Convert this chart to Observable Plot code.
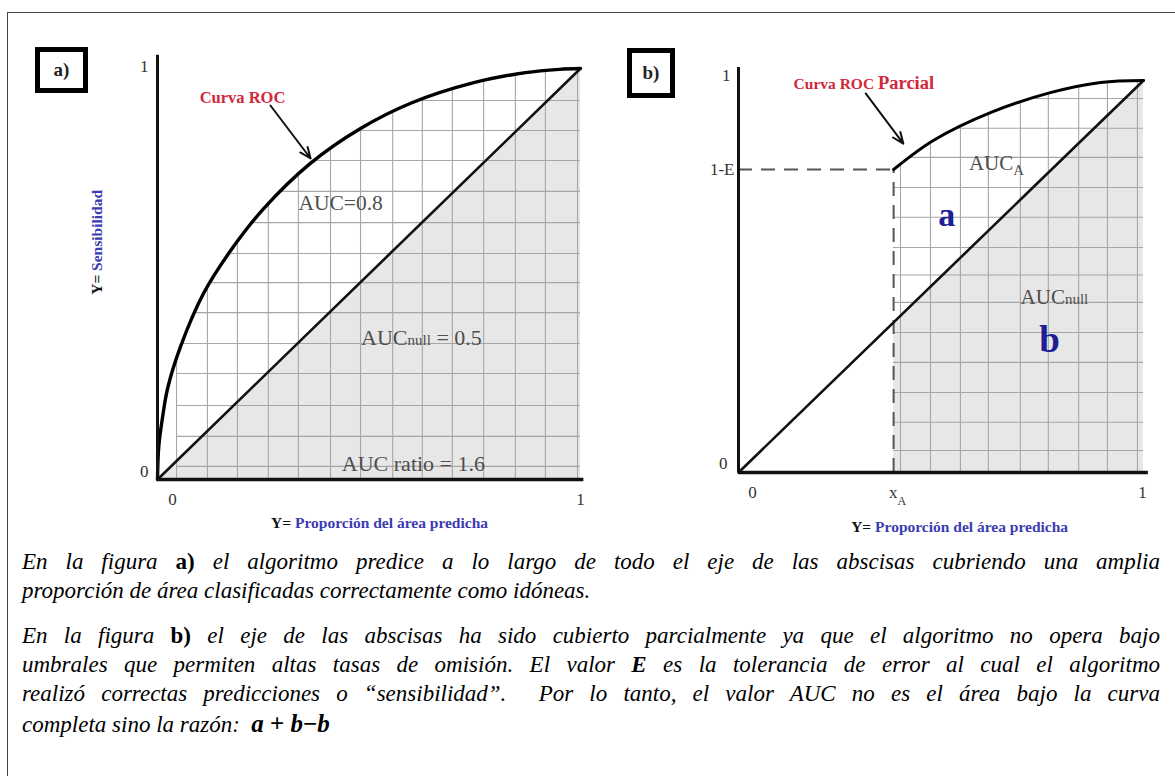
<!DOCTYPE html>
<html><head><meta charset="utf-8">
<script src="https://cdn.jsdelivr.net/npm/d3@7"></script>
<script src="https://cdn.jsdelivr.net/npm/@observablehq/plot@0.6"></script>
<style>
html,body{margin:0;padding:0;background:#fff;}
#page{position:relative;width:1175px;height:776px;overflow:hidden;font-family:'Liberation Serif','Times New Roman',Times,serif;}
#frame{position:absolute;left:7px;top:12px;width:1200px;height:800px;border-left:1.5px solid #444;border-top:1.5px solid #444;}
.panel{position:absolute;top:0;}
.panel svg{overflow:visible;}
.tag{position:absolute;border:5px solid #000;box-sizing:border-box;font-weight:bold;font-size:19px;display:flex;align-items:center;justify-content:center;color:#222;}
.cap{position:absolute;left:22px;width:1138px;height:28px;line-height:28px;font-style:italic;font-size:23px;color:#000;}
.j{text-align:justify;text-align-last:justify;}
.cap b.up{font-style:normal;}
.m{font-weight:bold;font-size:25px;font-style:normal;}
.m i{font-style:italic;}
</style></head>
<body><div id="page">
<div id="frame"></div>
<div class="tag" style="left:35px;top:47px;width:53px;height:46px;">a)</div>
<div class="tag" style="left:627px;top:48px;width:48px;height:50px;">b)</div>
<div class="panel" id="pa" style="left:0px;"></div>
<div class="panel" id="pb" style="left:590px;"></div>
<div id="caption"></div>
</div>
<script>
// ---------- data: panel a ----------
const rocAx = [0, 0.003, 0.012, 0.024, 0.054, 0.109, 0.173, 0.25, 0.36, 0.48, 0.6, 0.75, 0.87, 0.95, 1];
const rocAy = [0, 0.08, 0.152, 0.222, 0.322, 0.453, 0.557, 0.658, 0.768, 0.854, 0.916, 0.966, 0.99, 0.998, 1];
const nullX = [0, 1];
const nullY = [0, 1];
const gridXA = [0.045, 0.118, 0.189, 0.262, 0.333, 0.409, 0.480, 0.556, 0.626, 0.697, 0.771, 0.846, 0.917, 0.993];
const gridYA = [0.032, 0.105, 0.180, 0.258, 0.331, 0.406, 0.479, 0.550, 0.625, 0.701, 0.776, 0.849, 0.922];
const ticksXA = [0, 1];
const tickLabelsXA = ["0", "1"];
const ticksYA = [0, 1];
const tickLabelsYA = ["0", "1"];
const textsA = ["Curva ROC", "AUC=0.8", "AUCnull = 0.5", "AUC ratio = 1.6"];
const titleX = "Y= Proporción del área predicha";
const titleY = "Y= Sensibilidad";

// ---------- data: panel b ----------
const xA = 0.383;
const oneMinusE = 0.773;
const rocBx = [0.383, 0.481, 0.622, 0.77, 0.894, 1];
const rocBy = [0.773, 0.847, 0.918, 0.969, 0.995, 1];
const gridXB = [0.40, 0.474, 0.548, 0.617, 0.696, 0.765, 0.840, 0.911, 0.985];
const gridYB = [0.056, 0.128, 0.204, 0.281, 0.357, 0.434, 0.504, 0.574, 0.651, 0.727, 0.804, 0.878, 0.954];
const ticksXB = [0, xA, 1];
const tickLabelsXB = ["0", "xA", "1"];
const ticksYB = [0, oneMinusE, 1];
const tickLabelsYB = ["0", "1-E", "1"];
const textsB = ["Curva ROC Parcial", "AUCA", "a", "AUCnull", "b"];

// ---------- caption ----------
const captionLines = [
  'En la figura <b class="up">a)</b> el algoritmo predice a lo largo de todo el eje de las abscisas cubriendo una amplia',
  'proporción de área clasificadas correctamente como idóneas.',
  'En la figura <b class="up">b)</b> el eje de las abscisas ha sido cubierto parcialmente ya que el algoritmo no opera bajo',
  'umbrales que permiten altas tasas de omisión. El valor <b>E</b> es la tolerancia de error al cual el algoritmo',
  'realizó correctas predicciones o “sensibilidad”.&nbsp; Por lo tanto, el valor AUC no es el área bajo la curva',
  'completa sino la razón:&nbsp; <span class="m"><i>a</i> + <i>b</i>−<i>b</i></span>'
];

// ---------- styles ----------
const SERIF = "'Liberation Serif','Times New Roman',Times,serif";
const BLUE = "#3b3bb2";
const NAVY = "#1d1d97";
const RED = "#d2283c";
const TXT = "#4e4e4e";
const FILL = "#e7e7e7";
const GRID = "#a6a6a6";

const pts = (xs, ys) => xs.map((x, i) => ({x, y: ys[i]}));
const lbl = (t, x, y, o) => Plot.text([t], {x, y, text: d => d, fontFamily: SERIF, ...o});

function tickMarks(ticks, labels, axis, offs, size) {
  return ticks.map((v, i) => Plot.text([labels[i]], {
    x: axis === "x" ? v : 0, y: axis === "x" ? 0 : v, text: d => d,
    dx: offs[i][0], dy: offs[i][1], fontSize: size, fill: "#333", fontFamily: SERIF,
    textAnchor: axis === "x" ? "middle" : "end"
  }));
}

// ---------- panel a ----------
const A = pts(rocAx, rocAy);
const D = pts(nullX, nullY);
const svgA = Plot.plot({
  width: 600, height: 545,
  x: {domain: [0, 1], range: [157, 580], axis: null},
  y: {domain: [0, 1], range: [479, 68], axis: null},
  style: {background: "transparent", overflow: "visible", fontFamily: SERIF},
  marks: [
    Plot.areaY(D, {x: "x", y: "y", fill: FILL}),
    Plot.ruleX(gridXA, {y1: 0, y2: 1, stroke: GRID, strokeWidth: 1.1}),
    Plot.ruleY(gridYA, {x1: gridXA[0], x2: 1, stroke: GRID, strokeWidth: 1.1}),
    Plot.areaY(A, {x: "x", y1: "y", y2: 1.01, fill: "white", curve: "catmull-rom"}),
    Plot.line(D, {x: "x", y: "y", stroke: "#111", strokeWidth: 2.6}),
    Plot.line(A, {x: "x", y: "y", stroke: "#000", strokeWidth: 3.4, curve: "catmull-rom"}),
    Plot.ruleX([0], {y1: 0, y2: 1.032, stroke: "#111", strokeWidth: 3}),
    Plot.ruleY([0], {x1: 0, x2: 1.008, stroke: "#111", strokeWidth: 3.4}),
    ...tickMarks(ticksXA, tickLabelsXA, "x", [[15, 20], [0, 20]], 17),
    ...tickMarks(ticksYA, tickLabelsYA, "y", [[-9, -8], [-9, -2]], 17),
    Plot.arrow([0], {x1: 0.267, y1: 0.910, x2: 0.362, y2: 0.781, stroke: "#111", strokeWidth: 2, headLength: 9, headAngle: 45}),
    lbl(textsA[0], 0.201, 0.929, {fill: RED, fontSize: 16.5, fontWeight: "bold"}),
    lbl(textsA[1], 0.433, 0.672, {fill: TXT, fontSize: 21.5}),
    lbl(textsA[2], 0.624, 0.345, {fill: TXT, fontSize: 22}),
    lbl(textsA[3], 0.605, 0.039, {fill: TXT, fontSize: 22}),
    lbl(titleX, 0.525, -0.105, {fill: BLUE, fontSize: 15.5, fontWeight: "bold"}),
    lbl(titleY, -0.142, 0.577, {fill: BLUE, fontSize: 15.5, fontWeight: "bold", rotate: -90})
  ]
});
document.getElementById("pa").appendChild(svgA);

// ---------- panel b ----------
const B = pts(rocBx, rocBy);
const Bfill = pts([xA, 1], [xA, 1]);
const svgB = Plot.plot({
  width: 585, height: 545,
  x: {domain: [0, 1], range: [148, 553], axis: null},
  y: {domain: [0, 1], range: [472, 80], axis: null},
  style: {background: "transparent", overflow: "visible", fontFamily: SERIF},
  marks: [
    Plot.areaY(Bfill, {x: "x", y: "y", fill: FILL}),
    Plot.ruleX(gridXB, {y1: 0, y2: 1, stroke: GRID, strokeWidth: 1.1}),
    Plot.ruleY(gridYB, {x1: xA, x2: 1, stroke: GRID, strokeWidth: 1.1}),
    Plot.areaY(B, {x: "x", y1: "y", y2: 1.01, fill: "white", curve: "catmull-rom"}),
    Plot.ruleY([oneMinusE], {x1: 0, x2: xA, stroke: "#555", strokeWidth: 2, strokeDasharray: "14,9"}),
    Plot.ruleX([xA], {y1: 0, y2: oneMinusE, stroke: "#555", strokeWidth: 2, strokeDasharray: "14,9"}),
    Plot.line(D, {x: "x", y: "y", stroke: "#111", strokeWidth: 2.6}),
    Plot.line(B, {x: "x", y: "y", stroke: "#000", strokeWidth: 3, curve: "catmull-rom"}),
    Plot.ruleX([0], {y1: 0, y2: 1.033, stroke: "#111", strokeWidth: 3}),
    Plot.ruleY([0], {x1: 0, x2: 1.012, stroke: "#111", strokeWidth: 3.4}),
    ...tickMarks(ticksXB, tickLabelsXB, "x", [[14, 20], [4, 20], [-1, 20]], 17),
    ...tickMarks(ticksYB, tickLabelsYB, "y", [[-11, -9], [-4, 0], [-8, -5]], 17),
    Plot.arrow([0], {x1: 0.314, y1: 0.967, x2: 0.407, y2: 0.839, stroke: "#111", strokeWidth: 2, headLength: 9, headAngle: 45}),
    lbl(textsB[0], 0.136, 0.990, {fill: RED, fontSize: 15.5, fontWeight: "bold", textAnchor: "start"}),
    lbl(textsB[1], 0.637, 0.788, {fill: TXT, fontSize: 21}),
    lbl(textsB[2], 0.514, 0.656, {fill: NAVY, fontSize: 34, fontWeight: "bold"}),
    lbl(textsB[3], 0.780, 0.446, {fill: TXT, fontSize: 21}),
    lbl(textsB[4], 0.768, 0.337, {fill: NAVY, fontSize: 37, fontWeight: "bold"}),
    lbl(titleX, 0.546, -0.140, {fill: BLUE, fontSize: 15.5, fontWeight: "bold"})
  ]
});
document.getElementById("pb").appendChild(svgB);

// rich text (subscripts, mixed colours) inside the SVG text elements
const rich = {
  "AUCnull = 0.5": 'AUC<tspan font-size="15">null</tspan> = 0.5',
  "AUCnull": 'AUC<tspan font-size="15">null</tspan>',
  "AUCA": 'AUC<tspan font-size="15" dy="5">A</tspan>',
  "xA": 'x<tspan font-size="12" dy="7">A</tspan>',
  "Curva ROC Parcial": 'Curva ROC <tspan font-size="18.5">Parcial</tspan>',
  "Y= Proporción del área predicha": '<tspan fill="#111">Y=</tspan> Proporción del área predicha',
  "Y= Sensibilidad": '<tspan fill="#111">Y=</tspan> Sensibilidad'
};
for (const svg of [svgA, svgB]) {
  svg.querySelectorAll("text").forEach(t => {
    const k = t.textContent;
    if (rich[k] && !t.querySelector("tspan")) t.innerHTML = rich[k];
  });
}

// caption
const tops = [548, 577, 622, 651, 680, 710];
const cap = document.getElementById("caption");
captionLines.forEach((h, i) => {
  const d = document.createElement("div");
  d.className = "cap" + (i === 1 || i === 5 ? "" : " j");
  d.style.top = tops[i] + "px";
  d.innerHTML = h;
  cap.appendChild(d);
});
</script>
</body></html>
